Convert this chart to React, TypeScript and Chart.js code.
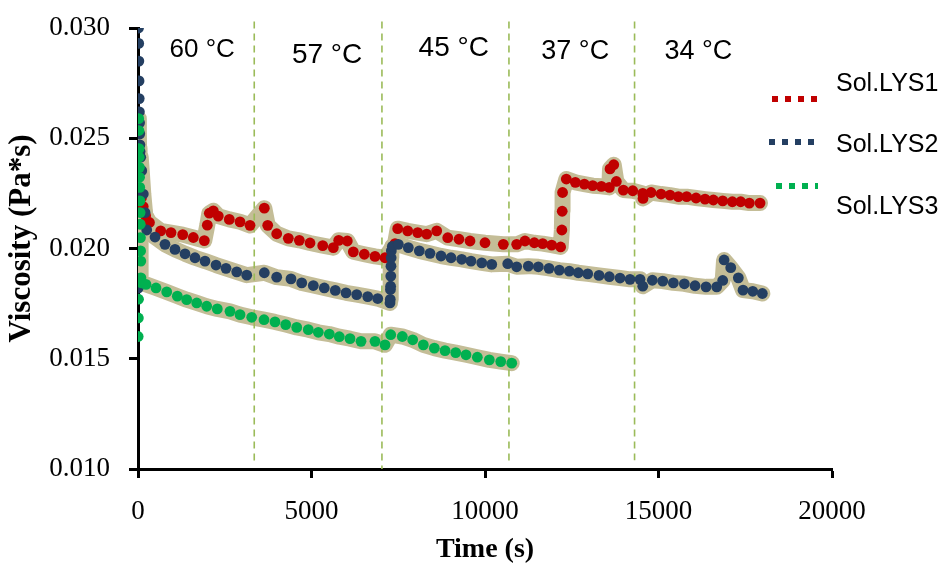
import React, { useEffect, useRef } from 'react';
import { Chart, registerables } from 'chart.js';

Chart.register(...registerables);

// ---- Data ----
const lys1Time = [100, 150, 220, 330, 654, 951, 1288, 1594, 1911, 1997, 2055, 2170, 2314, 2631, 2940, 3228, 3640, 3738, 3997, 4332, 4649, 4957, 5323, 5629, 5784, 6032, 6205, 6522, 6830, 7119, 7407, 7484, 7772, 8061, 8320, 8608, 8926, 9251, 9568, 10000, 10528, 10913, 11153, 11421, 11662, 11921, 12180, 12215, 12225, 12235, 12343, 12603, 12862, 13104, 13353, 13583, 13603, 13710, 13785, 13987, 14258, 14546, 14554, 14785, 15073, 15332, 15572, 15813, 16082, 16341, 16581, 16850, 17128, 17369, 17618, 17926];
const lys1Visc = [0.0223, 0.0219, 0.02148, 0.02118, 0.0208, 0.02072, 0.02063, 0.0205, 0.02036, 0.02106, 0.0216, 0.02171, 0.02147, 0.02132, 0.02121, 0.02105, 0.02183, 0.02105, 0.02067, 0.02046, 0.02037, 0.02025, 0.02013, 0.02004, 0.02037, 0.02034, 0.01985, 0.01974, 0.01964, 0.01958, 0.02022, 0.0209, 0.0208, 0.02072, 0.02065, 0.0208, 0.02049, 0.02042, 0.02034, 0.02026, 0.02019, 0.02019, 0.02034, 0.02026, 0.02022, 0.02015, 0.02007, 0.02084, 0.02169, 0.02254, 0.02315, 0.0230, 0.02292, 0.02285, 0.02282, 0.02277, 0.02361, 0.0238, 0.02304, 0.02265, 0.02262, 0.0225, 0.02227, 0.02254, 0.02247, 0.02242, 0.02235, 0.02235, 0.02229, 0.02224, 0.0222, 0.02216, 0.02212, 0.02212, 0.02206, 0.02206];

const lys2Time = [5, 15, 20, 25, 30, 35, 40, 45, 50, 55, 60, 78, 107, 153, 202, 251, 490, 778, 1066, 1355, 1643, 1931, 2248, 2536, 2845, 3133, 3640, 3997, 4409, 4718, 5052, 5369, 5686, 5995, 6303, 6620, 6908, 7262, 7270, 7275, 7280, 7285, 7290, 7295, 7300, 7330, 7502, 7790, 8107, 8415, 8733, 9021, 9329, 9597, 9906, 10194, 10655, 10913, 11249, 11537, 11845, 12142, 12430, 12689, 12960, 13286, 13583, 13891, 14179, 14468, 14546, 14822, 15122, 15428, 15745, 16053, 16370, 16678, 16850, 16890, 17082, 17301, 17436, 17716, 17993];
const lys2Visc = [0.0182, 0.0300, 0.0293, 0.0285, 0.0276, 0.0268, 0.0262, 0.0257, 0.0252, 0.0247, 0.0244, 0.02414, 0.02353, 0.02247, 0.02163, 0.02084, 0.02052, 0.02019, 0.01996, 0.01976, 0.01958, 0.01943, 0.01925, 0.0191, 0.01894, 0.01879, 0.0189, 0.0187, 0.01862, 0.01844, 0.01832, 0.01821, 0.0181, 0.01799, 0.01791, 0.01782, 0.01773, 0.01753, 0.01769, 0.01814, 0.01829, 0.01875, 0.0192, 0.01958, 0.01989, 0.0201, 0.02019, 0.02004, 0.01989, 0.01978, 0.01966, 0.01958, 0.01951, 0.01943, 0.01935, 0.01928, 0.01931, 0.01917, 0.0192, 0.01917, 0.0191, 0.01902, 0.01897, 0.0189, 0.01885, 0.01878, 0.01872, 0.01866, 0.0186, 0.0186, 0.01829, 0.01856, 0.01852, 0.01844, 0.0184, 0.01831, 0.01826, 0.01826, 0.01855, 0.01948, 0.01913, 0.01867, 0.01811, 0.01806, 0.01796];

const lys3Time = [5, 10, 15, 20, 25, 30, 35, 40, 45, 50, 55, 60, 65, 70, 75, 80, 85, 100, 230, 519, 827, 1133, 1403, 1692, 1980, 2285, 2651, 2940, 3277, 3631, 3948, 4257, 4574, 4908, 5196, 5513, 5801, 6110, 6427, 6830, 7119, 7283, 7617, 7916, 8223, 8540, 8848, 9156, 9453, 9779, 10125, 10453, 10770];
const lys3Visc = [0.01601, 0.01685, 0.0177, 0.02589, 0.02535, 0.02453, 0.02414, 0.02368, 0.02323, 0.02277, 0.02216, 0.02163, 0.0211, 0.02049, 0.01989, 0.01943, 0.01867, 0.01844, 0.01837, 0.01821, 0.01803, 0.01784, 0.01768, 0.01753, 0.01738, 0.01726, 0.01715, 0.017, 0.01688, 0.01677, 0.01667, 0.01655, 0.01642, 0.01632, 0.0162, 0.01612, 0.016, 0.01591, 0.01579, 0.01579, 0.01563, 0.01609, 0.01601, 0.01586, 0.01563, 0.01548, 0.01537, 0.01528, 0.01518, 0.01507, 0.01495, 0.01487, 0.0148];

// index from which the error band (tan) of each series is drawn
const bandStart = [0, 11, 3];

const seriesNames = ['Sol.LYS1', 'Sol.LYS2', 'Sol.LYS3'];

// temperature step boundaries (s) and dashed line extents (Pa*s)
const stepTimes = [3350, 7030, 10690, 14310];
const stepTop = [0.0303, 0.0303, 0.0303, 0.0303];
const stepBottom = [0.0103, 0.0100, 0.0103, 0.0104];

const tempLabels = ['60 °C', '57 °C', '45 °C', '37 °C', '34 °C'];
const tempLabelTime = [1850, 5450, 9100, 12600, 16150];
const tempLabelVisc = [0.0290, 0.02877, 0.02909, 0.02895, 0.02895];

const xTicks = [0, 5000, 10000, 15000, 20000];
const yTicks = [0.010, 0.015, 0.020, 0.025, 0.030];
const yTitle = 'Viscosity (Pa*s)';
const xTitle = 'Time (s)';

const COLORS = ['#C00000', '#243F62', '#00B050'];
const TAN = '#C4BD97';
const SERIF = '"Liberation Serif", "Times New Roman", serif';
const SANS = '"Liberation Sans", Arial, sans-serif';

const pts = (t: number[], v: number[]) => t.map((x, i) => ({ x, y: v[i] }));

export default function App() {
  const ref = useRef<HTMLCanvasElement | null>(null);

  useEffect(() => {
    if (!ref.current) return;
    const series = [pts(lys1Time, lys1Visc), pts(lys2Time, lys2Visc), pts(lys3Time, lys3Visc)];

    const datasets: any[] = [];
    // error bands (tan) behind
    series.forEach((d, i) => {
      datasets.push({
        type: 'line', label: 'band' + i, data: d.slice(bandStart[i]), showLine: true,
        borderColor: TAN, borderWidth: 16, pointRadius: 0, borderJoinStyle: 'round',
        borderCapStyle: 'round', fill: false, order: 20, tension: 0,
      });
    });
    // dashed step lines
    stepTimes.forEach((t, i) => {
      datasets.push({
        type: 'line', label: 'step' + i,
        data: [{ x: t, y: stepTop[i] }, { x: t, y: stepBottom[i] }],
        borderColor: '#9BBB59', borderWidth: 1.6, borderDash: [7, 5], pointRadius: 0,
        showLine: true, fill: false, order: 10, clip: false,
      });
    });
    // points
    series.forEach((d, i) => {
      datasets.push({
        type: 'scatter', label: seriesNames[i], data: d, showLine: false,
        backgroundColor: COLORS[i], borderWidth: 0, pointRadius: 5.4, pointHoverRadius: 5.4,
        order: 5 - i,
      });
    });

    const overlay = {
      id: 'overlay',
      afterDraw(chart: any) {
        const { ctx, scales } = chart;
        const xs = scales.x, ys = scales.y;
        ctx.save();
        // y axis title
        ctx.save();
        ctx.translate(22, 238.5);
        ctx.rotate(-Math.PI / 2);
        ctx.fillStyle = '#000';
        ctx.textAlign = 'center';
        ctx.textBaseline = 'middle';
        ctx.font = `bold 31px ${SERIF}`;
        ctx.fillText(yTitle, 0, 0);
        ctx.restore();
        // temperature labels
        const sizes = [26, 28, 28, 27, 27];
        ctx.fillStyle = '#000';
        ctx.textAlign = 'center';
        ctx.textBaseline = 'middle';
        tempLabels.forEach((txt, i) => {
          ctx.font = `${sizes[i]}px ${SANS}`;
          ctx.fillText(txt, xs.getPixelForValue(tempLabelTime[i]), ys.getPixelForValue(tempLabelVisc[i]));
        });
        // legend
        const items = [
          { mx0: 772, mx1: 818, my: 99, ty: 84 },
          { mx0: 769, mx1: 815, my: 142, ty: 145 },
          { mx0: 776, mx1: 818, my: 186, ty: 207 },
        ];
        items.forEach((it, i) => {
          ctx.strokeStyle = COLORS[i];
          ctx.lineWidth = 6;
          ctx.setLineDash([6, 7]);
          ctx.lineCap = 'butt';
          ctx.beginPath();
          ctx.moveTo(it.mx0, it.my);
          ctx.lineTo(it.mx1, it.my);
          ctx.stroke();
          ctx.setLineDash([]);
          ctx.fillStyle = '#000';
          ctx.textAlign = 'left';
          ctx.font = `25px ${SANS}`;
          ctx.fillText(seriesNames[i], 836, it.ty);
        });
        ctx.restore();
      },
    };

    const chart = new Chart(ref.current, {
      type: 'scatter',
      data: { datasets },
      options: {
        animation: false,
        responsive: false,
        events: [],
        layout: { padding: { left: 0, top: 28, right: 115, bottom: 0 } },
        plugins: { legend: { display: false }, tooltip: { enabled: false } },
        scales: {
          x: {
            type: 'linear', min: 0, max: 20000,
            afterBuildTicks: (s: any) => { s.ticks = xTicks.map((v) => ({ value: v })); },
            afterFit: (s: any) => { s.height = 98; s.paddingLeft = 0; s.paddingRight = 0; },
            border: { display: true, color: '#000', width: 3 },
            grid: { display: true, drawOnChartArea: false, drawTicks: true, tickLength: 9, tickWidth: 3, tickColor: '#000' },
            ticks: {
              color: '#000', padding: 18,
              font: { family: SERIF, size: 27 },
              callback: (v: any) => String(v),
            },
            title: {
              display: true, text: xTitle, color: '#000',
              font: { family: SERIF, size: 28, weight: 'bold' },
              padding: { top: 0, bottom: 0 },
            },
          },
          y: {
            type: 'linear', min: 0.010, max: 0.030,
            afterBuildTicks: (s: any) => { s.ticks = yTicks.map((v) => ({ value: v })); },
            afterFit: (s: any) => { s.width = 138; s.paddingTop = 0; s.paddingBottom = 0; },
            border: { display: true, color: '#000', width: 3 },
            grid: { display: true, drawOnChartArea: false, drawTicks: true, tickLength: 9, tickWidth: 3, tickColor: '#000' },
            ticks: {
              color: '#000', padding: 19,
              font: { family: SERIF, size: 27 },
              callback: (v: any) => Number(v).toFixed(3),
            },
            title: { display: false },
          },
        },
      },
      plugins: [overlay],
    } as any);

    return () => chart.destroy();
  }, []);

  return (
    <div style={{ position: 'absolute', left: 0, top: 0, width: 947, height: 567, background: '#fff' }}>
      <canvas ref={ref} width={947} height={567} style={{ display: 'block' }} />
    </div>
  );
}
